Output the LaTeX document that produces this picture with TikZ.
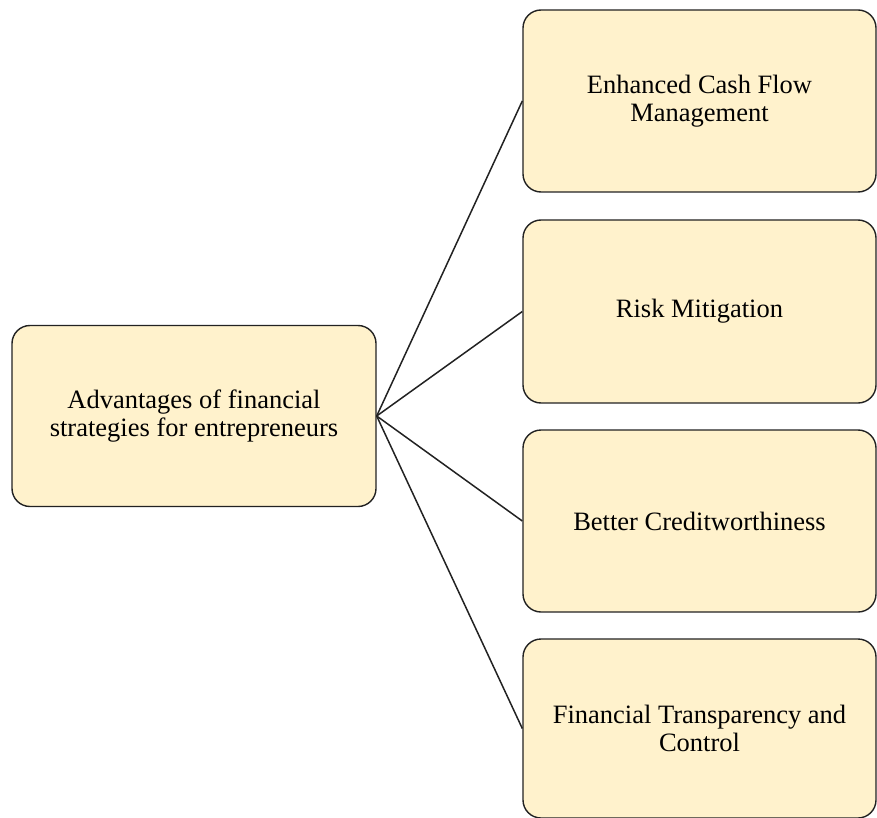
\documentclass[tikz,border=0pt]{standalone}
\usepackage{fontspec}
\setmainfont{Liberation Serif}
\definecolor{boxfill}{HTML}{FFF2CC}
\definecolor{boxline}{HTML}{222222}
\begin{document}
\begin{tikzpicture}[x=1pt,y=-1pt,
  box/.style={draw=boxline, line width=1.4pt, fill=boxfill, rounded corners=18pt,
    rectangle, align=center, inner sep=0pt,
    font=\fontsize{26.5}{28}\selectfont},
  link/.style={draw=boxline, line width=1.5pt}]
\useasboundingbox (0,0) rectangle (877,818);
\node[box, minimum width=364pt, minimum height=181pt] (root) at (194,416)
  {Advantages of financial\\strategies for entrepreneurs};
\node[box, minimum width=353pt, minimum height=182pt] (b1) at (699.5,101)
  {Enhanced Cash Flow\\Management};
\node[box, minimum width=353pt, minimum height=183pt] (b2) at (699.5,311.5)
  {Risk Mitigation};
\node[box, minimum width=353pt, minimum height=182pt] (b3) at (699.5,521)
  {Better Creditworthiness};
\node[box, minimum width=353pt, minimum height=179pt] (b4) at (699.5,728.5)
  {Financial Transparency and\\Control};
\foreach \t in {b1,b2,b3,b4}{
  \draw[link] (root.east) -- (\t.west);
}
\end{tikzpicture}
\end{document}
